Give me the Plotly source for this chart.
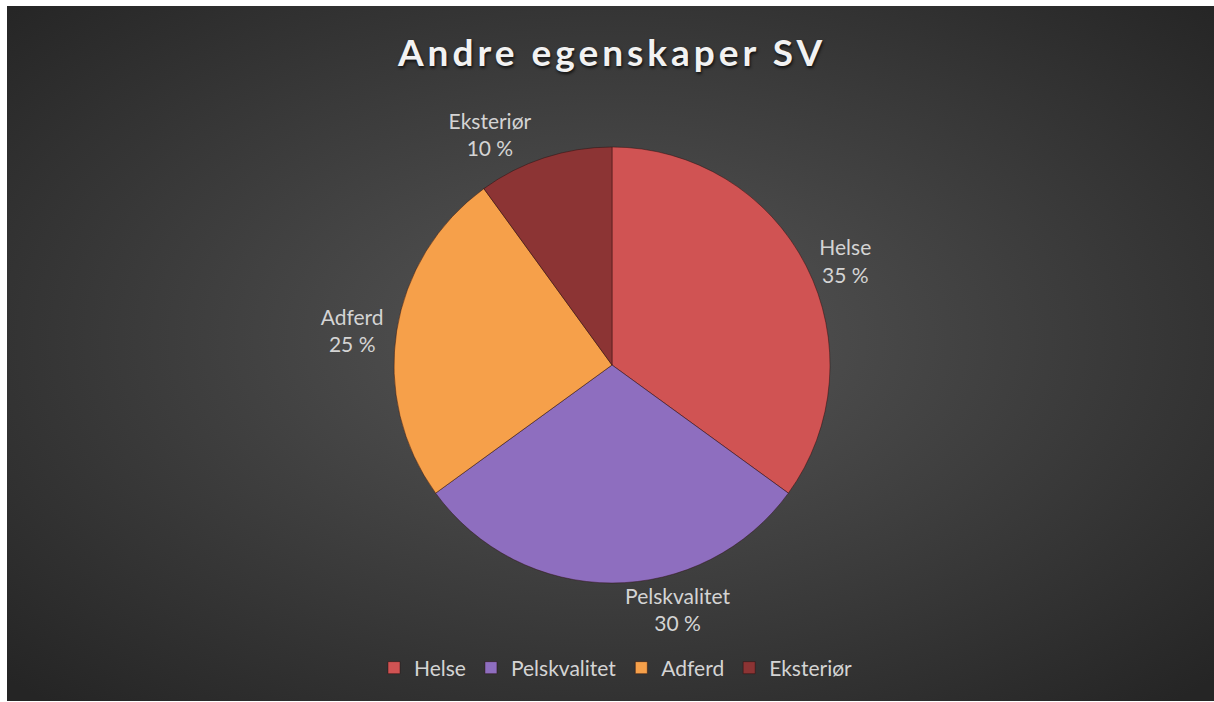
import plotly.graph_objects as go
import base64

categories = ["Helse", "Pelskvalitet", "Adferd", "Eksteriør"]
values = [35, 30, 25, 10]
colors = ["#d05353", "#8e6ebf", "#f6a04a", "#8c3434"]
title_text = "Andre egenskaper SV"

W, H = 1214, 702

svg = """<svg xmlns='http://www.w3.org/2000/svg' width='1207' height='695' viewBox='0 0 1207 695' preserveAspectRatio='none'>
<defs><radialGradient id='g' cx='50%' cy='48%' r='70%' fx='50%' fy='48%'>
<stop offset='0%' stop-color='#575757'/><stop offset='100%' stop-color='#252525'/>
</radialGradient></defs>
<rect width='1207' height='695' fill='url(#g)'/></svg>"""
bg_src = "data:image/svg+xml;base64," + base64.b64encode(svg.encode()).decode()

fig = go.Figure()
fig.add_trace(go.Pie(
    labels=categories,
    values=values,
    sort=False,
    direction="clockwise",
    rotation=0,
    marker=dict(colors=colors, line=dict(color="rgba(40,10,10,0.45)", width=1)),
    textposition="outside",
    texttemplate="%{label}<br>%{value} %",
    textfont=dict(family="Lato", size=21, color="#d4d4d4"),
    hoverinfo="label+value",
    domain=dict(x=[394 / W, 830 / W], y=[(H - 583) / H, (H - 147) / H]),
    showlegend=True,
))

fig.update_layout(
    width=W, height=H,
    margin=dict(l=0, r=0, t=0, b=0),
    paper_bgcolor="white",
    plot_bgcolor="rgba(0,0,0,0)",
    images=[dict(source=bg_src, xref="paper", yref="paper", x=7 / W, y=1 - 6 / H,
                 sizex=1 - 7 / W, sizey=1 - 7 / H, xanchor="left", yanchor="top",
                 sizing="stretch", layer="below")],
    title=dict(text=title_text, x=612 / W, xanchor="center", y=1 - 53 / H, yanchor="middle",
               font=dict(family="Lato", size=37, color="#f2f2f2", weight="bold",
                         shadow="1px 2px 3px rgba(0,0,0,0.7)")),
    legend=dict(orientation="h", x=616 / W, xanchor="center", y=1 - 668 / H, yanchor="middle",
                font=dict(family="Lato", size=21, color="#d4d4d4"),
                bgcolor="rgba(0,0,0,0)", itemwidth=30),
)

post = """
document.body.style.margin='0';
document.body.style.padding='0';
var t=document.querySelector('.gtitle'); if(t){t.style.letterSpacing='4px';}
"""
fig.write_html("out.html", post_script=post, config={"displayModeBar": False})
